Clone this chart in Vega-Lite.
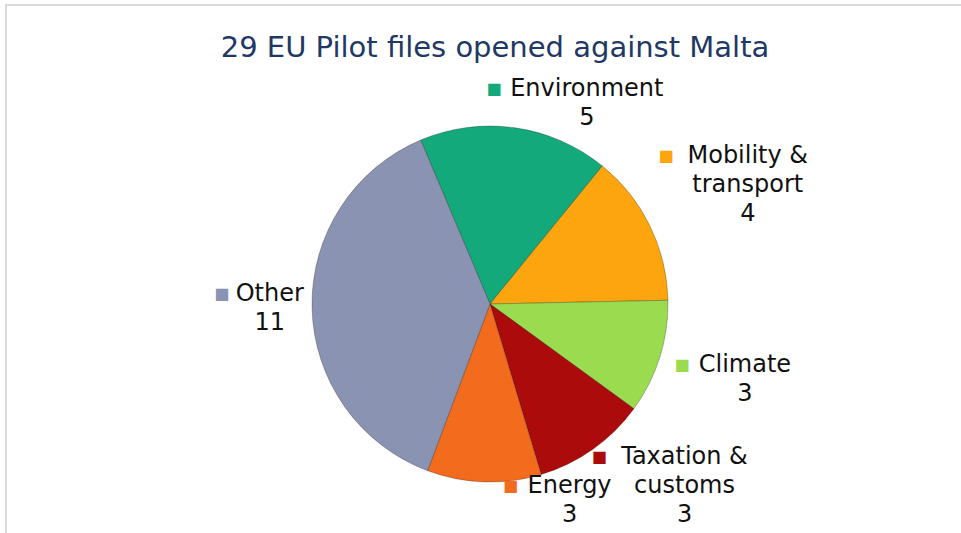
{
  "$schema": "https://vega.github.io/schema/vega-lite/v6.json",
  "width": 968,
  "height": 598,
  "autosize": {"type": "none"},
  "padding": {"left": 6, "top": 5, "right": 0, "bottom": 0},
  "background": "#ffffff",
  "view": {"stroke": "#d9d9d9", "strokeWidth": 2},
  "title": {
    "text": "29 EU Pilot files opened against Malta",
    "font": "DejaVu Sans",
    "fontSize": 29,
    "fontWeight": "normal",
    "color": "#1F3864",
    "anchor": "middle",
    "baseline": "alphabetic",
    "offset": -81,
    "dx": 5
  },
  "config": {
    "view": {"stroke": "#d9d9d9", "strokeWidth": 2}
  },
  "data": {
    "values": [
      {"category": "Environment", "value": 5},
      {"category": "Mobility & transport", "value": 4},
      {"category": "Climate", "value": 3},
      {"category": "Taxation & customs", "value": 3},
      {"category": "Energy", "value": 3},
      {"category": "Other", "value": 11}
    ]
  },
  "transform": [
    {"window": [{"op": "sum", "field": "value", "as": "cum"}, {"op": "row_number", "as": "rank"}], "frame": [null, 0]},
    {"joinaggregate": [{"op": "sum", "field": "value", "as": "total"}]},
    {"calculate": "-0.4 + 2*PI*(datum.cum - datum.value/2)/datum.total", "as": "a"},
    {"calculate": "split(replace(datum.category, ' & ', ' &|') + '|' + datum.value, '|')", "as": "lines"},
    {"calculate": "datum.lines[0]", "as": "first"},
    {"calculate": "length(datum.lines)", "as": "nl"},
    {"calculate": "24*(0.62*length(datum.first) - 0.3*(length(datum.first) - length(replace(datum.first, regexp('[iltrfj ]','g'), ''))) + 0.3*(length(datum.first) - length(replace(datum.first, regexp('[mMwW&]','g'), ''))))", "as": "w"},
    {"calculate": "datum.w + 30", "as": "bw"},
    {"calculate": "datum.nl*29", "as": "bh"},
    {"calculate": "190 + abs(sin(datum.a))*datum.bw/2 + abs(cos(datum.a))*datum.bh/4", "as": "d"},
    {"calculate": "clamp(-datum.d*cos(datum.a), -230 + datum.bh/2, 225 - datum.bh/2)", "as": "cy"},
    {"calculate": "(sin(datum.a) > -0.1 ? 1 : -1)*sqrt(max(0, datum.d*datum.d - datum.cy*datum.cy))", "as": "cx"},
    {"calculate": "datum.cx + 15", "as": "tx"},
    {"calculate": "datum.cy - (datum.nl - 1)*29/2", "as": "ty"},
    {"calculate": "sqrt(datum.tx*datum.tx + datum.ty*datum.ty)", "as": "tr"},
    {"calculate": "atan2(datum.tx, -datum.ty)", "as": "tt"},
    {"calculate": "datum.tx - datum.w/2 - 18", "as": "sx"},
    {"calculate": "datum.ty", "as": "sy"},
    {"calculate": "sqrt(datum.sx*datum.sx + datum.sy*datum.sy)", "as": "sr"},
    {"calculate": "atan2(datum.sx, -datum.sy)", "as": "st"}
  ],
  "layer": [
    {
      "mark": {"type": "arc", "radius": 178, "stroke": "#000000", "strokeOpacity": 0.25, "strokeWidth": 1},
      "encoding": {
        "theta": {"field": "value", "type": "quantitative", "stack": true, "scale": {"range": [-0.4, 5.88319]}},
        "color": {
          "field": "category",
          "type": "nominal",
          "scale": {
            "domain": ["Environment", "Mobility & transport", "Climate", "Taxation & customs", "Energy", "Other"],
            "range": ["#13A97B", "#FCA50E", "#9BDB4F", "#AC0B0B", "#F36C1E", "#8A93B1"]
          },
          "legend": null
        },
        "order": {"field": "rank", "type": "quantitative"}
      }
    },
    {
      "mark": {"type": "text", "font": "DejaVu Sans", "fontSize": 24, "lineHeight": 29, "align": "center", "baseline": "middle", "color": "#111111"},
      "encoding": {
        "theta": {"field": "tt", "type": "quantitative", "scale": null, "stack": false},
        "radius": {"field": "tr", "type": "quantitative", "scale": null},
        "text": {"field": "lines"}
      }
    },
    {
      "mark": {"type": "text", "text": "■", "font": "DejaVu Sans", "fontSize": 16, "align": "center", "baseline": "middle"},
      "encoding": {
        "theta": {"field": "st", "type": "quantitative", "scale": null, "stack": false},
        "radius": {"field": "sr", "type": "quantitative", "scale": null},
        "color": {"field": "category", "type": "nominal", "legend": null}
      }
    }
  ]
}
